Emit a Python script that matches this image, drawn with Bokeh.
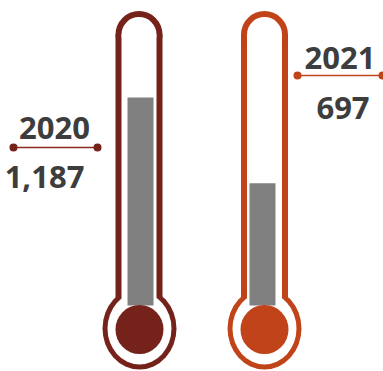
from bokeh.plotting import figure
from bokeh.models import Range1d
from bokeh.core.properties import value
from bokeh.embed import file_html
from bokeh.resources import INLINE

# ---- data ----
years = ["2020", "2021"]
values = [1187, 697]
value_labels = ["1,187", "697"]
thermo_colors = ["#74221a", "#c0431a"]
line_colors = ["#8a2a20", "#c0461b"]
bar_color = "#808080"
text_color = "#3d3d3d"

W, H = 383, 371
BASE_PX = 305.0           # pixel row of value 0
UPP = 1187 / 208.0        # value units per pixel


def Y(px):
    return (BASE_PX - px) * UPP


def HY(px):
    return px * UPP


p = figure(width=W, height=H, output_backend="svg", toolbar_location=None,
           x_range=Range1d(0, W), y_range=Range1d(Y(H), Y(0)),
           min_border=0, background_fill_color="white", border_fill_color="white")
p.axis.visible = False
p.grid.visible = False
p.outline_line_color = None

tube_cx = [138.5, 264.0]
bulb_cx = [139.0, 264.0]
bar_cx = [140.0, 262.0]

for i in range(2):
    c = thermo_colors[i]
    tx = tube_cx[i]
    bx = bulb_cx[i]
    # outer coloured shape
    p.quad(left=[tx - 23.5], right=[tx + 23.5], top=[Y(34)], bottom=[Y(300)],
           fill_color=c, line_color=None)
    p.ellipse(x=[tx], y=[Y(34)], width=[47], height=[HY(47)], fill_color=c, line_color=None)
    p.ellipse(x=[bx], y=[Y(328)], width=[74], height=[HY(82)], fill_color=c, line_color=None)
    # white interior
    p.quad(left=[tx - 17.5], right=[tx + 17.5], top=[Y(34)], bottom=[Y(312)],
           fill_color="white", line_color=None)
    p.ellipse(x=[tx], y=[Y(34)], width=[35], height=[HY(35)], fill_color="white", line_color=None)
    p.ellipse(x=[bx], y=[Y(328)], width=[64], height=[HY(72)], fill_color="white", line_color=None)

# mercury bars driven by values
p.vbar(x=bar_cx, width=26, bottom=0, top=values, fill_color=bar_color, line_color=None)

# inner bulbs
for i in range(2):
    p.ellipse(x=[bulb_cx[i]], y=[Y(329)], width=[48], height=[HY(49)],
              fill_color=thermo_colors[i], line_color=None)

# labels
lx0 = [13, 297]
lx1 = [97, 382]
ly = [147, 75]
year_x = [54, 339.5]
year_y = [127, 57]
val_x = [44, 342.5]
val_y = [176, 107]
for i in range(2):
    p.line(x=[lx0[i], lx1[i]], y=[Y(ly[i]), Y(ly[i])], line_color=line_colors[i], line_width=1.6)
    p.scatter(x=[lx0[i], lx1[i]], y=[Y(ly[i]), Y(ly[i])], size=8,
              fill_color=thermo_colors[i], line_color=None)

p.text(x=year_x, y=[Y(v) for v in year_y], text=years,
       text_font=value("Open Sans"), text_font_style="bold", text_font_size="31px",
       text_color=text_color, text_align="center", text_baseline="alphabetic")
p.text(x=val_x, y=[Y(v) for v in val_y], text=value_labels,
       text_font=value("Open Sans"), text_font_style="bold", text_font_size="31px",
       text_color=text_color, text_align="center", text_baseline="alphabetic")

open("out.html", "w").write(file_html(p, INLINE))
